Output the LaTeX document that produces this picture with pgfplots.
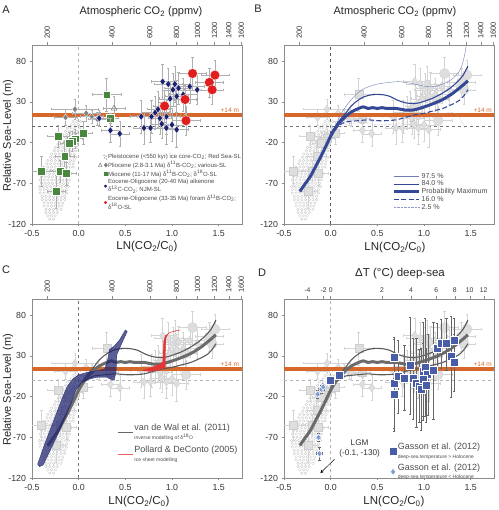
\documentclass[border=0pt]{standalone}
\usepackage{fontspec}
\setmainfont{Liberation Sans}
\usepackage{pgfplots}
\pgfplotsset{compat=1.18}
\usepackage{pgfplotstable}

\definecolor{orng}{RGB}{214,104,44}
\definecolor{mgreen}{RGB}{74,135,62}
\definecolor{navyd}{RGB}{28,32,110}
\definecolor{redc}{RGB}{225,30,30}
\definecolor{blueC}{RGB}{52,72,150}
\definecolor{gas}{RGB}{72,92,168}
\definecolor{gasl}{RGB}{125,155,215}
\definecolor{cloudc}{RGB}{192,192,192}
\definecolor{errg}{RGB}{175,175,175}
\definecolor{lgfill}{RGB}{222,222,222}
\definecolor{lgedge}{RGB}{205,205,205}
\definecolor{lgerr}{RGB}{212,212,212}
\definecolor{vdw}{RGB}{30,35,110}
\definecolor{curvg}{RGB}{90,90,90}

% Pliocene diamonds
\pgfplotstableread{
x y ex ey
-0.14 11 0.12 10
-0.04 21 0.25 12
0.08 16 0.15 10
0.14 12 0.12 8
0.20 9 0.10 8
}\plio
% Pliocene triangle
\pgfplotstableread{
x y ex ey
0.38 22 0.12 15
}\pliotri
% Miocene squares
\pgfplotstableread{
x y ex ey
0.30 39 0.16 20
-0.22 -12 0.12 14
0.05 -8 0.10 14
-0.04 -15 0.08 12
-0.07 -18 0.08 12
-0.10 -21 0.10 14
-0.15 -37 0.10 18
-0.40 -55 0.12 18
-0.20 -55 0.10 14
-0.13 -58 0.10 14
-0.24 -80 0.10 20
0.34 10 0.08 6
}\mio
% Eocene-Oligocene alkenone
\pgfplotstableread{
x y ex ey
0.22 10 0.10 10
0.34 -5 0.10 15
0.44 -9 0.10 15
0.67 12 0.12 20
0.70 -2 0.12 20
0.78 12 0.15 20
0.77 -2 0.12 18
0.82 17 0.15 20
0.85 21 0.12 22
0.87 10 0.12 20
0.89 3 0.12 18
0.94 12 0.15 22
0.94 -2 0.12 20
1.00 2 0.12 20
1.05 -4 0.12 22
0.90 55 0.12 22
0.96 52 0.15 20
1.03 52 0.15 22
1.01 45 0.12 20
1.07 47 0.15 20
0.98 34 0.12 22
1.05 37 0.12 20
1.12 39 0.15 20
1.19 49 0.15 20
1.27 45 0.15 18
}\alk
% Eocene-Oligocene foram
\pgfplotstableread{
x y ex ey
1.22 65 0.15 20
1.46 63 0.15 18
1.40 54 0.15 18
1.43 45 0.12 18
1.14 33 0.12 18
0.92 25 0.12 20
1.15 7 0.15 18
}\foram
% Gasson > Holocene
\pgfplotstableread{
x y ex ey
0.00 0 0.02 4
0.09 6 0.02 4
0.68 28 0.03 25
0.68 -4 0.03 55
0.68 -17 0.03 45
0.72 5 0.03 45
0.79 3 0.03 40
0.85 18 0.03 60
0.88 2 0.03 50
0.92 -3 0.03 55
0.95 -7 0.03 45
0.97 -11 0.03 50
0.99 11 0.03 60
1.01 16 0.03 60
1.04 7 0.03 50
0.99 1 0.03 45
1.02 -6 0.03 45
1.10 12 0.03 60
1.14 40 0.03 30
1.18 45 0.03 30
1.24 45 0.03 32
1.32 49 0.03 28
1.29 29 0.03 50
1.32 22 0.03 35
}\gas
% Gasson < Holocene
\pgfplotstableread{
x y ex ey
-0.14 -17 0.03 5
-0.10 -11 0.03 5
-0.08 -8 0.02 4
-0.13 -70 0.02 5
-0.12 -90 0.03 8
}\gasl

\newcommand{\plotcloud}[1]{\addplot[forget plot, only marks, mark=o, mark size=1.3pt, mark options={#1}] coordinates {
(-0.06,6) (-0.02,6) (0.02,6)
(-0.08,2) (-0.04,2) (0.00,2)
(-0.12,-2) (-0.08,-2) (-0.04,-2) (0.01,-2)
(-0.14,-6) (-0.10,-6) (-0.06,-6) (-0.02,-6) (0.02,-6)
(-0.17,-10) (-0.13,-10) (-0.09,-10) (-0.05,-10) (-0.01,-10)
(-0.18,-14) (-0.14,-14) (-0.10,-14) (-0.06,-14) (-0.02,-14) (0.01,-14)
(-0.21,-18) (-0.17,-18) (-0.13,-18) (-0.09,-18) (-0.05,-18) (-0.01,-18)
(-0.22,-22) (-0.18,-22) (-0.14,-22) (-0.10,-22) (-0.06,-22) (-0.02,-22)
(-0.25,-26) (-0.21,-26) (-0.17,-26) (-0.13,-26) (-0.09,-26) (-0.05,-26) (-0.02,-26)
(-0.26,-30) (-0.22,-30) (-0.18,-30) (-0.14,-30) (-0.10,-30) (-0.06,-30) (-0.03,-30)
(-0.29,-34) (-0.25,-34) (-0.21,-34) (-0.17,-34) (-0.13,-34) (-0.09,-34) (-0.05,-34)
(-0.30,-38) (-0.26,-38) (-0.22,-38) (-0.18,-38) (-0.14,-38) (-0.10,-38) (-0.06,-38) (-0.03,-38)
(-0.33,-42) (-0.29,-42) (-0.25,-42) (-0.21,-42) (-0.17,-42) (-0.13,-42) (-0.09,-42) (-0.05,-42)
(-0.34,-46) (-0.30,-46) (-0.26,-46) (-0.22,-46) (-0.18,-46) (-0.14,-46) (-0.10,-46) (-0.06,-46)
(-0.37,-50) (-0.33,-50) (-0.29,-50) (-0.25,-50) (-0.21,-50) (-0.17,-50) (-0.13,-50) (-0.09,-50) (-0.06,-50)
(-0.38,-54) (-0.34,-54) (-0.30,-54) (-0.26,-54) (-0.22,-54) (-0.18,-54) (-0.14,-54) (-0.10,-54)
(-0.39,-58) (-0.35,-58) (-0.31,-58) (-0.27,-58) (-0.23,-58) (-0.19,-58) (-0.15,-58) (-0.11,-58) (-0.08,-58)
(-0.40,-62) (-0.36,-62) (-0.32,-62) (-0.28,-62) (-0.24,-62) (-0.20,-62) (-0.16,-62) (-0.12,-62)
(-0.41,-66) (-0.37,-66) (-0.33,-66) (-0.29,-66) (-0.25,-66) (-0.21,-66) (-0.17,-66) (-0.13,-66) (-0.10,-66)
(-0.40,-70) (-0.36,-70) (-0.32,-70) (-0.28,-70) (-0.24,-70) (-0.20,-70) (-0.16,-70) (-0.12,-70)
(-0.42,-74) (-0.38,-74) (-0.34,-74) (-0.30,-74) (-0.26,-74) (-0.22,-74) (-0.18,-74) (-0.14,-74) (-0.11,-74)
(-0.41,-78) (-0.37,-78) (-0.33,-78) (-0.29,-78) (-0.25,-78) (-0.21,-78) (-0.17,-78) (-0.13,-78)
(-0.41,-82) (-0.37,-82) (-0.33,-82) (-0.29,-82) (-0.25,-82) (-0.21,-82) (-0.17,-82) (-0.13,-82)
(-0.39,-86) (-0.35,-86) (-0.31,-86) (-0.27,-86) (-0.23,-86) (-0.19,-86) (-0.15,-86)
(-0.39,-90) (-0.35,-90) (-0.31,-90) (-0.27,-90) (-0.23,-90) (-0.19,-90) (-0.15,-90)
(-0.37,-94) (-0.33,-94) (-0.29,-94) (-0.25,-94) (-0.21,-94) (-0.17,-94)
(-0.37,-98) (-0.33,-98) (-0.29,-98) (-0.25,-98) (-0.21,-98) (-0.18,-98)
(-0.35,-102) (-0.31,-102) (-0.27,-102) (-0.23,-102) (-0.19,-102)
(-0.35,-106) (-0.31,-106) (-0.27,-106) (-0.23,-106)
(-0.33,-110) (-0.29,-110) (-0.25,-110)
(-0.31,-114) (-0.27,-114)
};}

% curves (probability maximum and percentiles)
\newcommand{\cmax}[1]{\addplot[forget plot, smooth, #1] coordinates {(-0.33,-80) (-0.27,-70) (-0.22,-62) (-0.16,-49) (-0.10,-36) (-0.05,-24) (0.00,-12) (0.04,-4) (0.08,3) (0.14,10) (0.20,16) (0.26,20) (0.30,22) (0.35,24) (0.40,22) (0.45,23) (0.50,22) (0.55,23) (0.60,22) (0.70,22) (0.80,20) (0.88,20) (0.95,22) (1.03,25) (1.10,28) (1.20,33) (1.30,40) (1.40,49) (1.47,56)};}
\newcommand{\chigh}[1]{\addplot[forget plot, smooth, #1] coordinates {(0.00,-9) (0.05,0) (0.10,8) (0.16,16) (0.22,25) (0.28,31) (0.35,36) (0.45,39) (0.55,39) (0.63,37) (0.72,32) (0.80,29) (0.90,28) (0.98,30) (1.10,35) (1.20,41) (1.28,47) (1.36,55) (1.42,63) (1.47,74)};}
\newcommand{\clow}[1]{\addplot[forget plot, smooth, #1] coordinates {(0.00,-13) (0.05,-4) (0.10,2) (0.15,5) (0.20,6) (0.30,7) (0.40,8) (0.50,7) (0.60,7) (0.70,8) (0.80,11) (0.90,14) (1.00,16) (1.10,19) (1.20,22) (1.30,27) (1.38,32) (1.43,38) (1.47,45)};}
\newcommand{\cvhigh}[1]{\addplot[forget plot, smooth, #1] coordinates {(0.05,0) (0.12,17) (0.20,30) (0.28,40) (0.37,47) (0.50,52) (0.63,54) (0.72,55) (0.80,54) (0.90,52) (1.02,49) (1.12,49) (1.24,54) (1.32,60) (1.39,70) (1.43,85) (1.46,105)};}
\newcommand{\cvlow}[1]{\addplot[forget plot, smooth, #1] coordinates {(0.05,-5) (0.15,2) (0.25,4) (0.40,3) (0.55,2) (0.70,3) (0.85,6) (1.00,10) (1.15,14) (1.28,17) (1.35,15) (1.40,7) (1.44,-2)};}

\pgfplotsset{
  panel/.style={scale only axis, width=210pt, height=179pt, anchor=south west,
    xmin=-0.5, xmax=1.75, ymin=-120, ymax=100,
    xtick={-0.5,0,0.5,1,1.5}, xticklabels={-0.5,0.0,0.5,1.0,1.5},
    ytick={-120,-70,-20,30,80},
    xtick pos=left, ytick pos=left, tick align=outside, major tick length=2.5pt,
    axis line style={black!45}, tick style={black!45, line width=0.4pt},
    tick label style={font=\fontsize{8.8}{9.5}\selectfont, text=black!80},
    /pgf/number format/assume math mode=true, clip=true, clip marker paths=true},
  topbase/.style={scale only axis, width=210pt, height=179pt, anchor=south west,
    xmin=-0.5, xmax=1.75, ymin=-120, ymax=100,
    axis x line*=top, axis y line=none, tick align=outside, major tick length=2.5pt,
    axis line style={black!45}, tick style={black!45, line width=0.4pt}},
  topco2/.style={topbase,
    xtick={-0.33647,0.35667,0.76214,1.04982,1.27297,1.45529,1.60944,1.74297},
    xticklabels={200,400,600,800,1000,1200,1400,1600},
    xticklabel style={rotate=90, anchor=west, font=\fontsize{7.5}{8}\selectfont, text=black!80}},
  eb/.style={error bars/.cd, x dir=both, x explicit, y dir=both, y explicit,
    error bar style={draw=#1, line width=0.35pt},
    error mark options={rotate=90, draw=#1, mark size=1.2pt, line width=0.35pt}},
}

\newcommand{\greydata}{%
\plotcloud{draw=black!22, line width=0.3pt}
\addplot[forget plot, only marks, mark=diamond*, mark size=4pt, mark options={fill=lgfill, draw=lgedge, line width=0.3pt}, eb=lgerr] table[x=x,y=y,x error=ex,y error=ey]{\plio};
\addplot[forget plot, only marks, mark=square*, mark size=4pt, mark options={fill=lgfill, draw=lgedge, line width=0.3pt}, eb=lgerr] table[x=x,y=y,x error=ex,y error=ey]{\mio};
\addplot[forget plot, only marks, mark=diamond*, mark size=4.2pt, mark options={fill=lgfill, draw=lgedge, line width=0.3pt}, eb=lgerr] table[x=x,y=y,x error=ex,y error=ey]{\alk};
\addplot[forget plot, only marks, mark=*, mark size=5pt, mark options={fill=lgfill, draw=lgedge, line width=0.3pt}, eb=lgerr] table[x=x,y=y,x error=ex,y error=ey]{\foram};
}

\begin{document}
\begin{tikzpicture}[x=1pt,y=1pt]
\useasboundingbox (0,0) rectangle (498,510);

% ================= Panel A =================
\begin{axis}[panel, at={(32pt,286pt)},
  legend style={at={(0.30,0.405)}, anchor=north west, draw=none, fill=none,
    font=\fontsize{6}{7.2}\selectfont, text=black!70, row sep=0.6pt,
    nodes={inner sep=0.4pt, align=left}},
  legend cell align=left]
\addplot[forget plot, black!30, dashed, line width=0.5pt] coordinates {(0,-120) (0,100)};
\addplot[forget plot, black!60, dashed, line width=0.5pt] coordinates {(-0.5,0) (1.75,0)};
\plotcloud{draw=cloudc, line width=0.3pt}
\addplot[forget plot, orng, line width=3.2pt] coordinates {(-0.5,14) (1.75,14)};
\addplot[forget plot, only marks, mark=diamond*, mark size=3.5pt, mark options={fill=black!50, draw=white, line width=0.3pt}, eb=errg] table[x=x,y=y,x error=ex,y error=ey]{\plio};
\addplot[forget plot, only marks, mark=triangle, mark size=3.4pt, mark options={draw=black!55, line width=0.4pt}, eb=errg] table[x=x,y=y,x error=ex,y error=ey]{\pliotri};
\addplot[forget plot, only marks, mark=square*, mark size=3.9pt, mark options={fill=mgreen, draw=white, line width=0.3pt}, eb=errg] table[x=x,y=y,x error=ex,y error=ey]{\mio};
\addplot[forget plot, only marks, mark=diamond*, mark size=3.7pt, mark options={fill=navyd, draw=white, line width=0.3pt}, eb=errg] table[x=x,y=y,x error=ex,y error=ey]{\alk};
\addplot[forget plot, only marks, mark=*, mark size=4.9pt, mark options={fill=redc, draw=white, line width=0.3pt}, eb=errg] table[x=x,y=y,x error=ex,y error=ey]{\foram};
\node[anchor=south east, text=orng, font=\fontsize{6.5}{7}\selectfont, inner sep=1pt] at (axis cs:1.73,16) {+14 m};
\addlegendimage{legend image code/.code={\draw[black!35, line width=0.3pt] (0.20cm,0.06cm) circle (0.6pt) (0.27cm,0.03cm) circle (0.6pt) (0.22cm,-0.03cm) circle (0.6pt) (0.29cm,-0.07cm) circle (0.6pt);}}
\addlegendentry{Pleistocene (<550 kyr) ice core-CO\textsubscript{2}; Red Sea-SL}
\addlegendimage{legend image code/.code={\draw[black!55, line width=0.4pt] (0.0cm,-0.06cm) -- (0.13cm,-0.06cm) -- (0.065cm,0.07cm) -- cycle; \fill[black!50] (0.26cm,-0.07cm) -- (0.32cm,0cm) -- (0.26cm,0.07cm) -- (0.20cm,0cm) -- cycle;}}
\addlegendentry{Pliocene (2.8-3.1 Ma) δ\textsuperscript{11}B-CO\textsubscript{2}; various-SL}
\addlegendimage{legend image code/.code={\fill[mgreen] (0.25cm,0cm) ++(-1.6pt,-1.6pt) rectangle ++(3.2pt,3.2pt);}}
\addlegendentry{Miocene (11-17 Ma) δ\textsuperscript{11}B-CO\textsubscript{2}; δ\textsuperscript{18}O-SL}
\addlegendimage{legend image code/.code={\fill[navyd] (0.25cm,0cm) circle (1.3pt);}}
\addlegendentry{Eocene-Oligocene (20-40 Ma) alkenone\\δ\textsuperscript{13}C-CO\textsubscript{2}; NJM-SL}
\addlegendimage{legend image code/.code={\fill[redc] (0.25cm,0cm) circle (1.3pt);}}
\addlegendentry{Eocene-Oligocene (33-35 Ma) foram δ\textsuperscript{11}B-CO\textsubscript{2};\\δ\textsuperscript{18}O-SL}
\end{axis}
\begin{axis}[topco2, at={(32pt,286pt)}]
\addplot[draw=none, forget plot] coordinates {(0,0)};
\end{axis}

% ================= Panel B =================
\begin{axis}[panel, at={(284pt,286pt)},
  legend style={at={(0.50,0.30)}, anchor=north west, draw=none, fill=none,
    font=\fontsize{7.1}{8}\selectfont, text=black!70, row sep=-0.4pt,
    nodes={inner sep=0.8pt}},
  legend cell align=left,
  legend image code/.code={\draw[#1] (0cm,0cm) -- (0.9cm,0cm);}]
\addplot[forget plot, black!65, dashed, line width=0.5pt] coordinates {(0,-120) (0,100)};
\addplot[forget plot, black!55, dashed, line width=0.4pt] coordinates {(-0.5,0) (1.75,0)};
\greydata
\addplot[forget plot, orng, line width=3.2pt] coordinates {(-0.5,14) (1.75,14)};
\cvlow{blueC!55, line width=0.4pt, densely dotted}
\cvhigh{blueC!70, line width=0.4pt}
\clow{blueC, line width=1.1pt, dash pattern=on 5pt off 2.5pt}
\chigh{blueC, line width=1.1pt}
\cmax{blueC, line width=3pt}
\node[anchor=south east, text=orng, font=\fontsize{6.5}{7}\selectfont, inner sep=1pt] at (axis cs:1.74,16) {+14 m};
\addlegendimage{blueC!70, line width=0.4pt}
\addlegendentry{97.5 \%}
\addlegendimage{blueC, line width=1.1pt}
\addlegendentry{84.0 \%}
\addlegendimage{blueC, line width=3pt}
\addlegendentry{Probability Maximum}
\addlegendimage{blueC, line width=1.1pt, dash pattern=on 5pt off 2.5pt}
\addlegendentry{16.0 \%}
\addlegendimage{blueC!55, line width=0.4pt, densely dotted}
\addlegendentry{2.5 \%}
\end{axis}
\begin{axis}[topco2, at={(284pt,286pt)}]
\addplot[draw=none, forget plot] coordinates {(0,0)};
\end{axis}

% ================= Panel C =================
\begin{axis}[panel, at={(32pt,32pt)},
  legend style={at={(0.39,0.318)}, anchor=north west, draw=none, fill=none,
    font=\fontsize{9}{10}\selectfont, text=black!70, row sep=4pt,
    nodes={inner sep=0.8pt, align=left}},
  legend cell align=left,
  legend image code/.code={\draw[#1] (0cm,0cm) -- (0.55cm,0cm);}]
\addplot[forget plot, black!55, dashed, line width=0.5pt] coordinates {(0,-120) (0,100)};
\addplot[forget plot, black!30, dashed, line width=0.5pt] coordinates {(-0.5,0) (1.75,0)};
\greydata
\addplot[forget plot, orng, line width=3.2pt] coordinates {(-0.5,14) (1.75,14)};
\clow{curvg, line width=1.1pt}
\chigh{curvg, line width=1.1pt}
\cmax{curvg!90, line width=3pt}
% van de Wal et al. (2011) band
\addplot[forget plot, fill=vdw, fill opacity=0.72, draw=vdw, line width=0.3pt] coordinates {
(-0.44,-103) (-0.40,-90) (-0.36,-77) (-0.32,-65) (-0.27,-50) (-0.22,-35) (-0.17,-20) (-0.12,-7) (-0.06,2) (0.00,7) (0.10,10) (0.20,12) (0.28,14) (0.31,25) (0.33,38) (0.38,42) (0.44,50) (0.50,62)
(0.52,60) (0.46,45) (0.41,32) (0.40,10) (0.38,0) (0.33,2) (0.30,4) (0.20,4) (0.10,1) (0.03,-3) (-0.03,-12) (-0.08,-28) (-0.13,-42) (-0.18,-55) (-0.23,-68) (-0.28,-80) (-0.33,-92) (-0.38,-104) (-0.42,-106) (-0.44,-103)};
% Pollard & DeConto (2005)
\addplot[forget plot, fill=redc!90, draw=redc!90, line width=0.3pt] coordinates {
(0.68,12) (0.76,15) (0.85,19) (0.90,22) (0.905,35) (0.91,48) (0.93,55) (0.98,59) (1.05,61) (1.09,62)
(1.02,60.5) (0.96,58) (0.935,52) (0.93,35) (0.93,16) (0.85,12.5) (0.76,11) (0.68,12)};
\node[anchor=south east, text=orng, font=\fontsize{6.5}{7}\selectfont, inner sep=1pt] at (axis cs:1.73,16) {+14 m};
\addlegendimage{black!60, line width=0.9pt}
\addlegendentry{van de Wal et al. (2011)\\[-1.5pt]{\fontsize{5}{6}\selectfont inverse modelling of δ\textsuperscript{18}O}}
\addlegendimage{redc!70, line width=0.9pt}
\addlegendentry{Pollard \& DeConto (2005)\\[-1.5pt]{\fontsize{5}{6}\selectfont Ice sheet modelling}}
\end{axis}
\begin{axis}[topco2, at={(32pt,32pt)}]
\addplot[draw=none, forget plot] coordinates {(0,0)};
\end{axis}

% ================= Panel D =================
\begin{axis}[panel, at={(284pt,32pt)},
  legend style={at={(0.485,0.21)}, anchor=north west, draw=none, fill=none,
    font=\fontsize{9}{10}\selectfont, text=black!70, row sep=2pt,
    nodes={inner sep=0.8pt, align=left}},
  legend cell align=left]
\addplot[forget plot, black!30, dashed, line width=0.5pt] coordinates {(0,-120) (0,100)};
\addplot[forget plot, black!30, dashed, line width=0.5pt] coordinates {(-0.5,0) (1.75,0)};
\greydata
\addplot[forget plot, orng, line width=3.2pt] coordinates {(-0.5,14) (1.75,14)};
\clow{curvg, line width=1.1pt}
\chigh{curvg, line width=1.1pt}
\cmax{curvg!90, line width=3pt}
\addplot[forget plot, only marks, mark=square*, mark size=4pt, mark options={fill=gas, draw=white, line width=0.6pt}, eb=black!60] table[x=x,y=y,x error=ex,y error=ey]{\gas};
\addplot[forget plot, only marks, mark=diamond*, mark size=3.5pt, mark options={fill=gasl, draw=white, line width=0.5pt}, eb=black!60] table[x=x,y=y,x error=ex,y error=ey]{\gasl};
\node[anchor=south east, text=orng, font=\fontsize{6.5}{7}\selectfont, inner sep=1pt] at (axis cs:1.74,16) {+14 m};
\node[font=\fontsize{8.2}{9.5}\selectfont, align=center, text=black!80] at (axis cs:0.31,-84) {LGM\\(-0.1, -130)};
\draw[-stealth, black, line width=0.5pt] (axis cs:0.04,-97) -- (axis cs:-0.11,-114);
\addlegendimage{only marks, mark=square*, mark size=4pt, mark options={fill=gas, draw=white, line width=0.6pt}}
\addlegendentry{Gasson et al. (2012)\\[-1.5pt]{\fontsize{5}{6}\selectfont deep-sea temperature > Holocene}}
\addlegendimage{only marks, mark=diamond*, mark size=3.5pt, mark options={fill=gasl, draw=white, line width=0.5pt}}
\addlegendentry{Gasson et al. (2012)\\[-1.5pt]{\fontsize{5}{6}\selectfont deep-sea temperature < Holocene}}
\end{axis}
\begin{axis}[topbase, at={(284pt,32pt)},
  xtick={-0.25,-0.075,0,0.55,0.86,1.13,1.33,1.49,1.64},
  xticklabels={-4,-2,0,2,4,6,8,10,12},
  xticklabel style={font=\fontsize{6.8}{8}\selectfont, text=black!80}]
\addplot[draw=none, forget plot] coordinates {(0,0)};
\end{axis}

% ================= Titles and labels =================
\begin{scope}[every node/.style={font=\fontsize{11}{12}\selectfont, text=black!85}]
\node at (6,500) {A};
\node at (258,501) {B};
\node at (6,240) {C};
\node at (262,237) {D};
\node at (141,498) {Atmospheric CO\textsubscript{2} (ppmv)};
\node at (395,498) {Atmospheric CO\textsubscript{2} (ppmv)};
\node[font=\fontsize{11.5}{12}\selectfont] at (400,236) {ΔT (°C) deep-sea};
\node[font=\fontsize{11.5}{12}\selectfont] at (147,263) {LN(CO\textsubscript{2}/C\textsubscript{0})};
\node[font=\fontsize{11.5}{12}\selectfont] at (395,262) {LN(CO\textsubscript{2}/C\textsubscript{0})};
\node[font=\fontsize{11.5}{12}\selectfont] at (139,8) {LN(CO\textsubscript{2}/C\textsubscript{0})};
\node[font=\fontsize{11.5}{12}\selectfont] at (394,8) {LN(CO\textsubscript{2}/C\textsubscript{0})};
\node[rotate=90] at (8,374) {Relative Sea-Level (m)};
\node[rotate=90] at (8,120) {Relative Sea-Level (m)};
\end{scope}
\end{tikzpicture}
\end{document}
